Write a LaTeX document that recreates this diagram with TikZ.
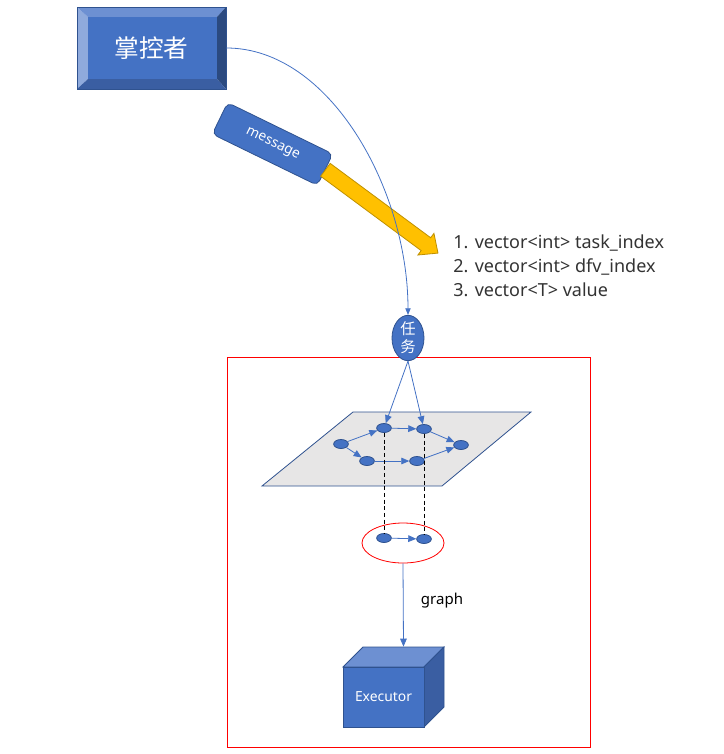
\documentclass[tikz,border=0pt]{standalone}
\usepackage{fontspec}
\setmainfont{Noto Sans}
\newfontfamily\cjk{Noto Sans CJK SC}
\usetikzlibrary{shapes.geometric,arrows.meta}
\definecolor{boxblue}{HTML}{4472C4}
\definecolor{edgeblue}{HTML}{2F528F}
\definecolor{lightblue}{HTML}{6D90D2}
\definecolor{paleblue}{HTML}{8FAADC}
\definecolor{midblue}{HTML}{3A5EA2}
\definecolor{deepblue}{HTML}{2B4A80}
\definecolor{msgyellow}{HTML}{FFC000}
\definecolor{msgbrown}{HTML}{BF9000}
\definecolor{planegray}{HTML}{E7E6E6}

\begin{document}
\begin{tikzpicture}[x=0.75pt,y=-0.75pt,line width=0.6pt,
    dot/.style={ellipse,fill=boxblue,draw=edgeblue,minimum width=11pt,minimum height=6.75pt,inner sep=0pt},
    flow/.style={draw=boxblue,-{Triangle[width=5pt,length=6pt]}},
    whitetext/.style={text=white,font=\fontsize{10.4}{12}\selectfont}]
    % page size
    \useasboundingbox (0,0) rectangle (724,754);

    % Draw the controller with bevelled edges
    \fill[paleblue] (77,7) -- (88,17) -- (88,79) -- (77,89) -- cycle;      % left
    \fill[lightblue] (77,7) -- (226,7) -- (217,17) -- (88,17) -- cycle;    % top
    \fill[deepblue] (226,7) -- (226,89) -- (217,79) -- (217,17) -- cycle;  % right
    \fill[midblue] (77,89) -- (88,79) -- (217,79) -- (226,89) -- cycle;    % bottom
    \fill[boxblue] (88,17) rectangle (217,79);
    \node (ctrl) [draw=edgeblue,minimum width=111.75pt,minimum height=61.5pt,inner sep=0pt,
        text=white,font=\cjk\fontsize{18.5}{22}\selectfont] at (151.5,48) {掌控者};

    % Draw the message box and its arrow
    \node (msg) [rounded corners=4pt,fill=boxblue,draw=edgeblue,rotate=-26,
        minimum width=87.75pt,minimum height=26.25pt,whitetext] at (272.5,144) {message};
    \begin{scope}[shift={(msg.east)},rotate=-36.5]
      \filldraw[fill=msgyellow,draw=msgbrown] (0,-8) -- (125,-8) -- (125,-13.5) -- (140,0)
          -- (125,13.5) -- (125,8) -- (0,8) -- cycle;
    \end{scope}

    % Fields of the message
    \node (fields) [anchor=west,align=left,inner sep=0pt,text=black!80,
        font=\fontsize{13.5}{18}\selectfont] at (453,266)
        {1. vector<int> task\_index\\2. vector<int> dfv\_index\\3. vector<T> value};

    % Red frame
    \draw[red] (227,357) rectangle (590,747);

    % Task node and the curve to it
    \node (task) [ellipse,fill=boxblue,draw=edgeblue,minimum width=24pt,minimum height=30pt,
        inner sep=0pt,align=center,text=white,font=\cjk\fontsize{11.5}{13.5}\selectfont] at (408,338) {任\\务};
    \draw[draw=boxblue,-{Triangle[width=4pt,length=5pt]}] (ctrl.east) .. controls (330,48) and (408,190) .. (task.north);

    % The plane with the whole graph
    \filldraw[fill=planegray,draw=edgeblue] (262,486) -- (353,412) -- (531,412) -- (442,486) -- cycle;
    \node (a) [dot] at (341,444) {};
    \node (b) [dot] at (384,428) {};
    \node (c) [dot] at (424,429) {};
    \node (d) [dot] at (461,445) {};
    \node (e) [dot] at (367,461) {};
    \node (f) [dot] at (417,461) {};
    \draw[flow] (a) -- (b);
    \draw[flow] (b) -- (c);
    \draw[flow] (c) -- (d);
    \draw[flow] (a) -- (e);
    \draw[flow] (e) -- (f);
    \draw[flow] (f) -- (d);
    \draw[flow] (task.south) -- (b);
    \draw[flow] (task.south) -- (c);

    % The sub graph
    \node (sub) [ellipse,draw=red,minimum width=61.5pt,minimum height=30pt] at (403,543) {};
    \node (g) [dot] at (384,538) {};
    \node (h) [dot] at (424,539) {};
    \draw[flow] (g) -- (h);
    \draw[dash pattern=on 3pt off 2pt] (b) -- (g);
    \draw[dash pattern=on 3pt off 2pt] (c) -- (h);

    % Executor cube
    \filldraw[fill=lightblue,draw=edgeblue] (343,667) -- (363,647) -- (444,647) -- (424,667) -- cycle; % top
    \filldraw[fill=midblue,draw=edgeblue] (424,667) -- (444,647) -- (444,707) -- (424,727) -- cycle;  % side
    \node (exec) [fill=boxblue,draw=edgeblue,minimum width=60.75pt,minimum height=45pt,whitetext] at (383.5,697) {Executor};
    \draw[flow] (sub.south) -- ([shift={(20,-20)}]exec.north);
    \node (glabel) [font=\fontsize{11.25}{13}\selectfont] at (442,601) {graph};
\end{tikzpicture}
\end{document}
